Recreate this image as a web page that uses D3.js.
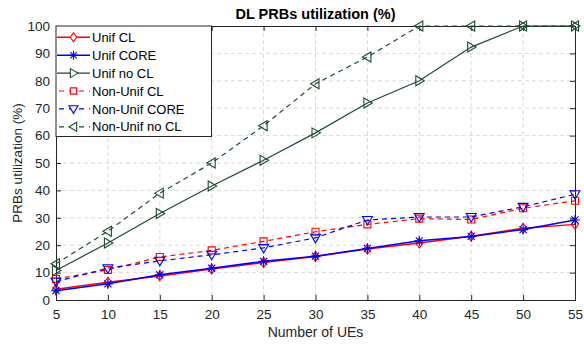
<!DOCTYPE html>
<html>
<head>
<meta charset="utf-8">
<script src="https://cdn.jsdelivr.net/npm/d3@7"></script>
<style>
  body { margin: 0; background: #fff; }
  text { font-family: "Liberation Sans", Arial, sans-serif; }
</style>
</head>
<body>
<div id="chart"></div>
<script>
// -- data ----------------------------
const ues = [5, 10, 15, 20, 25, 30, 35, 40, 45, 50, 55];
const unifCL      = [3.9, 6.5, 8.8, 11.3, 13.7, 15.9, 18.6, 20.8, 23.3, 26.2, 27.6];
const unifCORE    = [3.4, 5.9, 9.2, 11.6, 14.1, 16.0, 18.8, 21.6, 23.2, 25.7, 29.2];
const unifNoCL    = [10.8, 20.8, 31.6, 41.6, 51.0, 61.0, 71.9, 80.0, 92.3, 100, 100];
const nonUnifCL   = [7.7, 11.0, 15.7, 18.1, 21.4, 24.9, 27.6, 29.7, 29.4, 33.5, 36.2];
const nonUnifCORE = [6.7, 11.6, 14.3, 16.5, 19.0, 22.7, 29.2, 30.3, 30.3, 34.0, 38.6];
const nonUnifNoCL = [13.2, 25.1, 39.0, 50.0, 63.6, 78.9, 88.7, 100, 100, 100, 100];
const xTicks = [5, 10, 15, 20, 25, 30, 35, 40, 45, 50, 55];
const yTicks = [0, 10, 20, 30, 40, 50, 60, 70, 80, 90, 100];

const series = [
    { name: "Unif CL",          values: unifCL,      color: "#ff0000", dash: null,  marker: "diamond",  width: 1.5 },
    { name: "Unif CORE",        values: unifCORE,    color: "#0000ff", dash: null,  marker: "star",     width: 1.5 },
    { name: "Unif no CL",       values: unifNoCL,    color: "#1b4d2f", dash: null,  marker: "triRight", width: 1.2 },
    { name: "Non-Unif CL",      values: nonUnifCL,   color: "#ff0000", dash: "5,4", marker: "square",   width: 1.2 },
    { name: "Non-Unif CORE",    values: nonUnifCORE, color: "#0000ff", dash: "5,4", marker: "triDown",  width: 1.2 },
    { name: "Non-Unif no CL",   values: nonUnifNoCL, color: "#1b4d2f", dash: "5,4", marker: "triLeft",  width: 1.2 }
];

// -- layout ----------------------------
const W = 584, H = 345;
const margin = { top: 26, right: 9, bottom: 45, left: 56 };
const width = W - margin.left - margin.right,
      height = H - margin.top - margin.bottom;

const svg = d3.select("#chart").append("svg")
    .attr("width", W)
    .attr("height", H);

const g = svg.append("g")
    .attr("transform", "translate(" + margin.left + "," + margin.top + ")");

const x = d3.scaleLinear().domain([5, 55]).range([0, width]);
const y = d3.scaleLinear().domain([0, 100]).range([height, 0]);

// grid
g.append("g").selectAll("line")
    .data(xTicks.slice(1, -1))
    .enter().append("line")
    .attr("x1", d => x(d)).attr("x2", d => x(d))
    .attr("y1", 0).attr("y2", height)
    .style("stroke", "#d9d9d9").style("stroke-dasharray", "4,3").style("stroke-width", 1);

g.append("g").selectAll("line")
    .data(yTicks.slice(1, -1))
    .enter().append("line")
    .attr("y1", d => y(d)).attr("y2", d => y(d))
    .attr("x1", 0).attr("x2", width)
    .style("stroke", "#d9d9d9").style("stroke-dasharray", "4,3").style("stroke-width", 1);

// axes
const xAxis = g.append("g")
    .attr("transform", "translate(0," + height + ")")
    .call(d3.axisBottom(x).tickValues(xTicks).tickSize(-5).tickPadding(9));
const xTop = g.append("g")
    .call(d3.axisTop(x).tickValues(xTicks).tickSize(-5).tickFormat(""));
const yAxis = g.append("g")
    .call(d3.axisLeft(y).tickValues(yTicks).tickSize(-5).tickPadding(6));
const yRight = g.append("g")
    .attr("transform", "translate(" + width + ",0)")
    .call(d3.axisRight(y).tickValues(yTicks).tickSize(-5).tickFormat(""));

[xAxis, xTop, yAxis, yRight].forEach(a => {
    a.select(".domain").style("stroke", "#262626").style("stroke-width", 1);
    a.selectAll(".tick line").style("stroke", "#262626");
    a.selectAll("text").style("font-size", "13.5px").style("fill", "#262626")
        .style("font-family", "'Liberation Sans', Arial, sans-serif");
});

// markers
function markerPath(type, s) {
    switch (type) {
        case "diamond":
            return "M0," + (-s) + "L" + s * 0.7 + ",0L0," + s + "L" + (-s * 0.7) + ",0Z";
        case "square":
            return "M" + (-s * 0.7) + "," + (-s * 0.7) + "h" + s * 1.4 + "v" + s * 1.4 + "h" + (-s * 1.4) + "Z";
        case "triRight":
            return "M" + (-s * 0.7) + "," + (-s) + "L" + s + ",0L" + (-s * 0.7) + "," + s + "Z";
        case "triLeft":
            return "M" + s * 0.7 + "," + (-s) + "L" + (-s) + ",0L" + s * 0.7 + "," + s + "Z";
        case "triDown":
            return "M" + (-s) + "," + (-s * 0.7) + "L" + s + "," + (-s * 0.7) + "L0," + s + "Z";
        case "star":
            let p = "";
            for (let i = 0; i < 4; i++) {
                const a = i * Math.PI / 4;
                p += "M" + (-s * Math.cos(a)) + "," + (-s * Math.sin(a)) + "L" + s * Math.cos(a) + "," + s * Math.sin(a);
            }
            return p;
    }
}

const line = d3.line()
    .x((d, i) => x(ues[i]))
    .y(d => y(d));

const plot = g.append("g");

series.forEach(s => {
    plot.append("path")
        .datum(s.values)
        .attr("d", line)
        .style("fill", "none")
        .style("stroke", s.color)
        .style("stroke-width", s.width)
        .style("stroke-dasharray", s.dash);

    plot.selectAll(null)
        .data(s.values)
        .enter().append("path")
        .attr("transform", (d, i) => "translate(" + x(ues[i]) + "," + y(d) + ")")
        .attr("d", markerPath(s.marker, 5))
        .style("fill", "none")
        .style("stroke", s.color)
        .style("stroke-width", 1.1);
});

// legend
const legend = g.append("g");
legend.append("rect")
    .attr("x", 0).attr("y", 0)
    .attr("width", 155.5).attr("height", 110.5)
    .style("fill", "#fff").style("stroke", "#262626").style("stroke-width", 1);

series.forEach((s, i) => {
    const ly = 11.3 + i * 17.9;
    legend.append("line")
        .attr("x1", 1).attr("x2", 34)
        .attr("y1", ly).attr("y2", ly)
        .style("stroke", s.color)
        .style("stroke-width", s.dash ? 1.2 : s.width)
        .style("stroke-dasharray", s.dash ? "5,5" : null)
        .style("stroke-dashoffset", s.dash ? "-2" : null);
    legend.append("path")
        .attr("transform", "translate(17.5," + ly + ")")
        .attr("d", markerPath(s.marker, 4.5))
        .style("fill", "#fff")
        .style("stroke", s.color)
        .style("stroke-width", 1.1);
    legend.append("text")
        .attr("x", 36).attr("y", ly)
        .attr("dy", "0.36em")
        .style("font-size", "13px")
        .style("fill", "#000")
        .text(s.name);
});

// titles
svg.append("text")
    .attr("x", margin.left + width / 2)
    .attr("y", 19)
    .attr("text-anchor", "middle")
    .style("font-size", "14.5px")
    .style("font-weight", "bold")
    .text("DL PRBs utilization (%)");

svg.append("text")
    .attr("x", margin.left + width / 2)
    .attr("y", 337)
    .attr("text-anchor", "middle")
    .style("font-size", "14px")
    .style("fill", "#262626")
    .text("Number of UEs");

svg.append("text")
    .attr("transform", "translate(22," + (margin.top + height / 2) + ")rotate(-90)")
    .attr("text-anchor", "middle")
    .style("font-size", "13.5px")
    .style("fill", "#262626")
    .text("PRBs utilization (%)");
</script>
</body>
</html>
